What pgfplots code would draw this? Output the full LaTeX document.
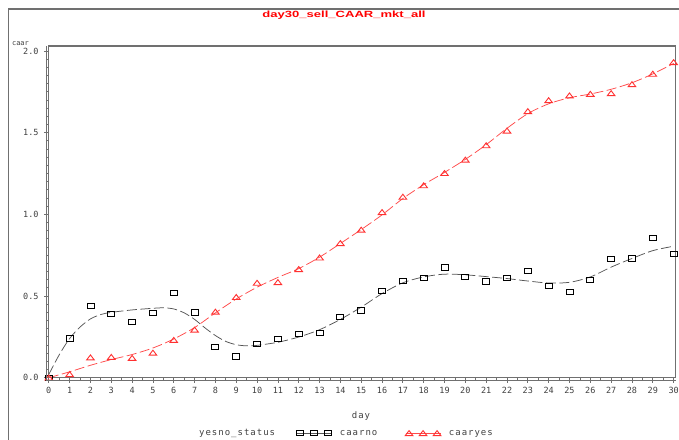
\documentclass[border=0pt]{standalone}
\usepackage{pgfplots}
\pgfplotsset{compat=1.18}
\usepackage{fontspec}
\setmainfont{Liberation Sans}
\newfontfamily\sasmono{DejaVu Sans Mono}
\newfontfamily\sasleg[LetterSpace=11]{DejaVu Sans Mono}
\definecolor{framegray}{HTML}{707070}
\definecolor{txtgray}{HTML}{404040}
\definecolor{fitgray}{HTML}{555555}
\definecolor{sasred}{HTML}{FF3030}
\definecolor{fitred}{HTML}{FF4A4A}
\pgfdeclareplotmark{rect}{\pgfpathrectangle{\pgfpoint{-3.5bp}{-2.6bp}}{\pgfpoint{7bp}{5.2bp}}\pgfusepathqstroke}
\pgfdeclareplotmark{tri}{\pgfpathmoveto{\pgfpoint{-3.8bp}{-2.3bp}}\pgfpathlineto{\pgfpoint{3.8bp}{-2.3bp}}\pgfpathlineto{\pgfpoint{0bp}{2.7bp}}\pgfpathclose\pgfusepathqstroke}

\pgfplotstableread{
day caar
0 0.0
1 0.24
2 0.44
3 0.39
4 0.34
5 0.398
6 0.517
7 0.40
8 0.19
9 0.13
10 0.207
11 0.238
12 0.266
13 0.272
14 0.37
15 0.412
16 0.532
17 0.593
18 0.613
19 0.675
20 0.617
21 0.589
22 0.613
23 0.656
24 0.562
25 0.524
26 0.60
27 0.728
28 0.730
29 0.855
30 0.759
}\caarno

\pgfplotstableread{
day caar
0 0.0
1 0.021
2 0.123
3 0.126
4 0.12
5 0.152
6 0.23
7 0.293
8 0.403
9 0.493
10 0.58
11 0.584
12 0.664
13 0.735
14 0.823
15 0.905
16 1.013
17 1.107
18 1.177
19 1.252
20 1.334
21 1.422
22 1.512
23 1.631
24 1.698
25 1.727
26 1.737
27 1.741
28 1.796
29 1.86
30 1.931
}\caaryes

\pgfplotstableread{
day caar
0 0.02
0.5 0.14
1 0.24
1.5 0.31
2 0.36
2.5 0.387
3 0.40
4 0.415
5 0.425
5.5 0.428
6 0.421
6.5 0.397
7 0.357
7.5 0.305
8 0.258
8.5 0.222
9 0.202
9.5 0.195
10 0.198
11 0.217
12 0.249
13 0.294
14 0.357
15 0.432
16 0.515
17 0.581
18 0.617
19 0.634
20 0.630
21 0.619
22 0.607
23 0.592
24 0.580
25 0.584
26 0.617
27 0.677
28 0.730
29 0.778
30 0.805
}\fitno

\pgfplotstableread{
day caar
0 0.0
1 0.036
2 0.076
3 0.111
4 0.142
5 0.182
6 0.237
7 0.307
8 0.397
9 0.482
10 0.554
11 0.614
12 0.668
13 0.738
14 0.822
15 0.907
16 0.997
17 1.097
18 1.182
19 1.257
20 1.337
21 1.427
22 1.527
23 1.617
24 1.677
25 1.714
26 1.737
27 1.766
28 1.806
29 1.86
30 1.924
}\fityes

\begin{document}
\begin{tikzpicture}
\path[use as bounding box] (0,0) rectangle (679bp,440bp);
\draw[framegray, line width=1.3bp] (8.3bp,0) -- (8.3bp,431bp) -- (679bp,431bp);
\begin{axis}[
  at={(48.8bp,62.3bp)}, anchor=south west, scale only axis,
  width=626.9bp, height=331.7bp,
  xmin=0, xmax=30.1, ymin=0, ymax=2.031,
  xtick={0,1,...,30}, minor x tick num=1,
  ytick={0,0.5,1,1.5,2}, minor y tick num=9,
  tick align=outside, major tick length=5bp, minor tick length=3bp,
  xtick pos=bottom, ytick pos=left,
  axis line style={framegray, line width=1.2bp},
  tick style={framegray, line width=0.8bp},
  /pgf/number format/assume math mode=true,
  ticklabel style={font=\sasmono\fontsize{8.5bp}{10bp}\selectfont, text=txtgray},
  yticklabel style={/pgf/number format/fixed, /pgf/number format/fixed zerofill, /pgf/number format/precision=1, inner sep=0pt, xshift=-5bp},
  xticklabel style={inner sep=0pt, yshift=-4bp},
  clip=false,
  legend columns=3,
  legend style={at={(0.2268,-0.1676)}, anchor=west, draw=none, fill=none, inner sep=0pt, column sep=0pt,
    font=\sasleg\fontsize{9bp}{10bp}\selectfont, text=txtgray,
    nodes={inner sep=0pt},
    /tikz/every odd column/.append style={column sep=8bp},
    /tikz/every even column/.append style={column sep=21bp}},
  legend cell align=left,
]
\addlegendimage{empty legend}
\addlegendentry{yesno\_status}
\addlegendimage{legend image code/.code={
  \draw[fitgray, line width=0.8bp] (0bp,0bp) -- (35bp,0bp);
  \draw[black, line width=0.9bp] plot[mark=rect, only marks] coordinates {(3.5bp,0bp) (17.5bp,0bp) (31.5bp,0bp)};}}
\addlegendentry{caarno}
\addlegendimage{legend image code/.code={
  \path (0bp,0bp);
  \draw[fitred, line width=0.8bp] (7bp,0bp) -- (42bp,0bp);
  \draw[sasred, line width=0.9bp] plot[mark=tri, only marks] coordinates {(10.5bp,0bp) (24.5bp,0bp) (38.5bp,0bp)};}}
\addlegendentry{caaryes}

\addplot[fitgray, line width=0.75bp, smooth, tension=0.5, dash pattern=on 10bp off 3.5bp, forget plot] table[x=day,y=caar]{\fitno};
\addplot[fitred, line width=0.75bp, smooth, tension=0.5, dash pattern=on 10bp off 3.5bp, forget plot] table[x=day,y=caar]{\fityes};
\addplot[only marks, mark=rect, black, line width=0.9bp, forget plot] table[x=day,y=caar]{\caarno};
\addplot[only marks, mark=tri, sasred, line width=0.9bp, forget plot] table[x=day,y=caar]{\caaryes};
\end{axis}
\draw[framegray, line width=1bp] (46.2bp,59.7bp) -- (46.2bp,394bp);
\draw[framegray, line width=1bp] (46.2bp,59.7bp) -- (676bp,59.7bp);
\node[text=red, font=\bfseries\fontsize{9bp}{10bp}\selectfont] at (344bp,424.5bp) {\scalebox{1.45}[1]{day30\_sell\_CAAR\_mkt\_all}};
\node[text=txtgray, font=\sasmono\fontsize{7bp}{8bp}\selectfont] at (20.5bp,396bp) {caar};
\node[text=txtgray, font=\sasleg\fontsize{9bp}{10bp}\selectfont] at (361bp,24bp) {day};
\end{tikzpicture}
\end{document}
